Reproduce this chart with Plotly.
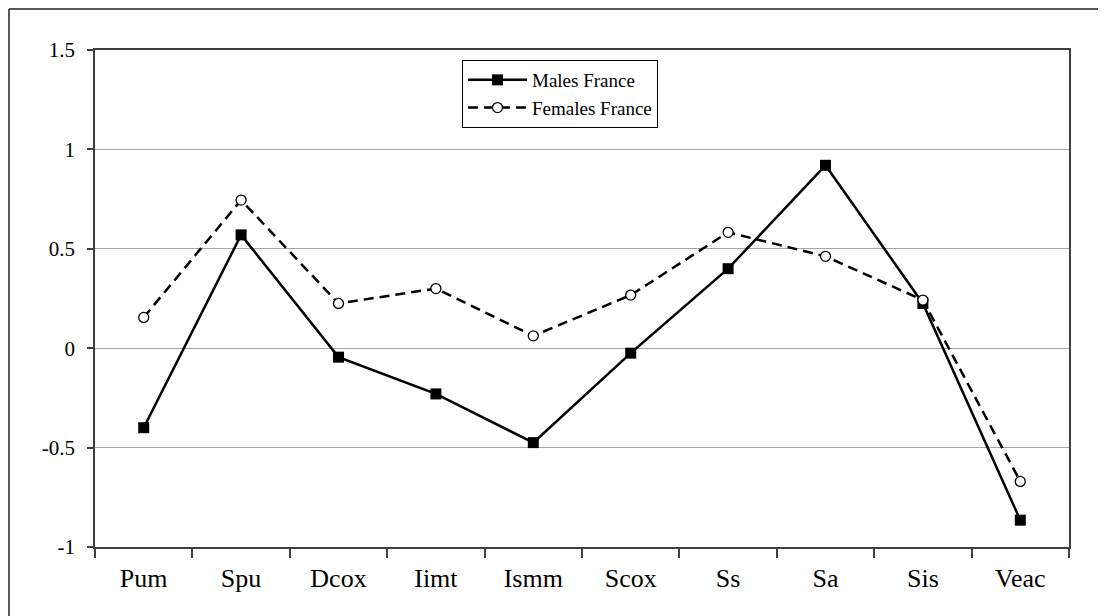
import plotly.graph_objects as go

categories = ["Pum", "Spu", "Dcox", "Iimt", "Ismm", "Scox", "Ss", "Sa", "Sis", "Veac"]
males_france = [-0.40, 0.57, -0.045, -0.23, -0.475, -0.025, 0.40, 0.92, 0.225, -0.865]
females_france = [0.155, 0.745, 0.225, 0.30, 0.062, 0.267, 0.583, 0.462, 0.242, -0.67]
y_ticks = [-1, -0.5, 0, 0.5, 1, 1.5]
y_tick_text = ["-1", "-0.5", "0", "0.5", "1", "1.5"]

# page has an 8px body margin; figure coords = page coords - 8
OFF = 8
W, H = 1106 - OFF, 616 - OFF
L, R, T, B = 95 - OFF, 37, 50 - OFF, 69
PW, PH = W - L - R, H - T - B

def px_x(p):
    return (p - OFF - L) / PW

def px_y(p):
    return (H - B - (p - OFF)) / PH

font_family = "Liberation Serif, Times New Roman, serif"

fig = go.Figure()
fig.add_trace(go.Scatter(
    x=categories, y=males_france, name="Males France", mode="lines+markers",
    line=dict(color="black", width=2.5),
    marker=dict(symbol="square", size=11, color="black"),
))
fig.add_trace(go.Scatter(
    x=categories, y=females_france, name="Females France", mode="lines+markers",
    line=dict(color="black", width=2.5, dash="10px,6px"),
    marker=dict(symbol="circle", size=10, color="white", line=dict(color="black", width=1.3)),
))

# outer frame (left and top edges visible)
fig.add_shape(type="line", xref="paper", yref="paper",
              x0=px_x(9), x1=px_x(1120), y0=px_y(9), y1=px_y(9),
              line=dict(color="#222222", width=1.5))
fig.add_shape(type="line", xref="paper", yref="paper",
              x0=px_x(9), x1=px_x(9), y0=px_y(9), y1=px_y(630),
              line=dict(color="#222222", width=1.5))

fig.update_layout(
    width=W, height=H,
    margin=dict(l=L, r=R, t=T, b=B),
    paper_bgcolor="white", plot_bgcolor="white",
    font=dict(family=font_family, size=20, color="black"),
    showlegend=True,
    legend=dict(
        x=px_x(462), y=px_y(60), xanchor="left", yanchor="top",
        bgcolor="white", bordercolor="black", borderwidth=1,
        font=dict(family=font_family, size=19, color="black"),
        tracegroupgap=0, itemwidth=59,
    ),
    xaxis=dict(
        type="category", range=[-0.5, 9.5], tickson="boundaries",
        ticks="outside", ticklen=9, tickwidth=1.5, tickcolor="#404040",
        showline=True, linecolor="#404040", linewidth=1.5, mirror=True,
        showgrid=False, zeroline=False, ticklabelstandoff=7,
        tickfont=dict(family=font_family, size=26, color="black"),
    ),
    yaxis=dict(
        range=[-1, 1.5], tickvals=y_ticks, ticktext=y_tick_text,
        ticks="outside", ticklen=6, tickwidth=1.5, tickcolor="#404040",
        showline=True, linecolor="#404040", linewidth=1.5, mirror=True,
        showgrid=True, gridcolor="#a6a6a6", gridwidth=1.3,
        zeroline=False, ticklabelstandoff=8,
        tickfont=dict(family=font_family, size=21, color="black"),
    ),
)

fig.write_html("out.html")
